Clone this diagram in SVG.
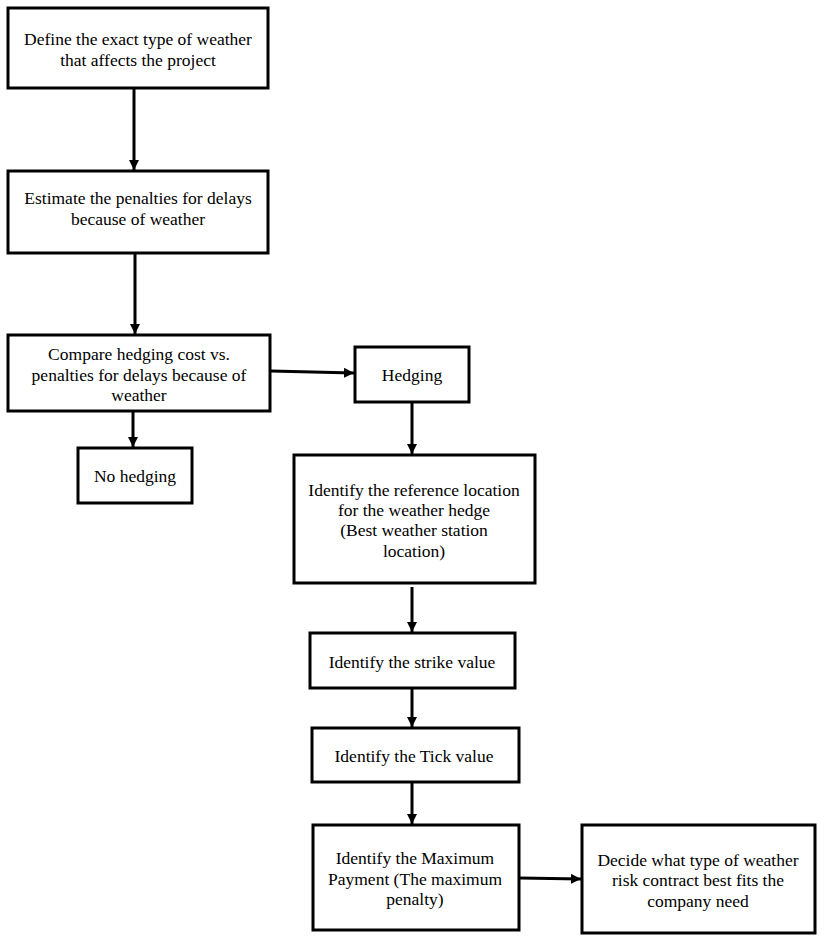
<svg xmlns="http://www.w3.org/2000/svg" width="824" height="940" viewBox="0 0 824 940">
<defs>
<style>
.box{fill:#fff;stroke:#000;stroke-width:3}
.t{font-family:'Liberation Serif','DejaVu Serif',serif;font-size:17.5px;fill:#000;text-anchor:middle}
.c{stroke:#000;stroke-width:3;fill:none}
</style>
<marker id="ah" viewBox="0 0 10 10" refX="10" refY="5" markerWidth="10" markerHeight="10" markerUnits="userSpaceOnUse" orient="auto">
<path d="M0,0 L10,5 L0,10 Z" fill="#000"/>
</marker>
</defs>
<rect width="824" height="940" fill="#fff"/>
<g id="connectors">
<line class="c" x1="134" y1="89" x2="134" y2="170" marker-end="url(#ah)"/>
<line class="c" x1="135" y1="254" x2="135" y2="334" marker-end="url(#ah)"/>
<line class="c" x1="271" y1="371" x2="354" y2="373" marker-end="url(#ah)"/>
<line class="c" x1="133" y1="412" x2="133" y2="447" marker-end="url(#ah)"/>
<line class="c" x1="412" y1="403" x2="412" y2="454" marker-end="url(#ah)"/>
<line class="c" x1="412" y1="587" x2="412" y2="632" marker-end="url(#ah)"/>
<line class="c" x1="412" y1="689" x2="412" y2="727" marker-end="url(#ah)"/>
<line class="c" x1="412" y1="783" x2="412" y2="824" marker-end="url(#ah)"/>
<line class="c" x1="520" y1="878" x2="581" y2="879" marker-end="url(#ah)"/>
</g>
<g id="n1"><rect class="box" x="8" y="8" width="260" height="80"/>
<text class="t" x="138" y="45">Define the exact type of weather</text>
<text class="t" x="138" y="66">that affects the project</text></g>
<g id="n2"><rect class="box" x="8" y="171" width="260" height="82"/>
<text class="t" x="138" y="204">Estimate the penalties for delays</text>
<text class="t" x="138" y="225">because of weather</text></g>
<g id="n3"><rect class="box" x="8" y="335" width="262" height="76"/>
<text class="t" x="139" y="360">Compare hedging cost vs.</text>
<text class="t" x="139" y="381">penalties for delays because of</text>
<text class="t" x="139" y="401">weather</text></g>
<g id="n4"><rect class="box" x="355" y="347" width="114" height="55"/>
<text class="t" x="412" y="381">Hedging</text></g>
<g id="n5"><rect class="box" x="78" y="448" width="114" height="55"/>
<text class="t" x="135" y="482">No hedging</text></g>
<g id="n6"><rect class="box" x="294" y="455" width="241" height="128"/>
<text class="t" x="414" y="496">Identify the reference location</text>
<text class="t" x="414" y="516">for the weather hedge</text>
<text class="t" x="414" y="536">(Best weather station</text>
<text class="t" x="414" y="557">location)</text></g>
<g id="n7"><rect class="box" x="310" y="633" width="205" height="55"/>
<text class="t" x="412" y="668">Identify the strike value</text></g>
<g id="n8"><rect class="box" x="312" y="728" width="207" height="54"/>
<text class="t" x="414" y="762">Identify the Tick value</text></g>
<g id="n9"><rect class="box" x="313" y="825" width="206" height="105"/>
<text class="t" x="415" y="864">Identify the Maximum</text>
<text class="t" x="415" y="885">Payment (The maximum</text>
<text class="t" x="415" y="905">penalty)</text></g>
<g id="n10"><rect class="box" x="582" y="825" width="233" height="108"/>
<text class="t" x="698" y="866">Decide what type of weather</text>
<text class="t" x="698" y="886">risk contract best fits the</text>
<text class="t" x="698" y="907">company need</text></g>
</svg>
